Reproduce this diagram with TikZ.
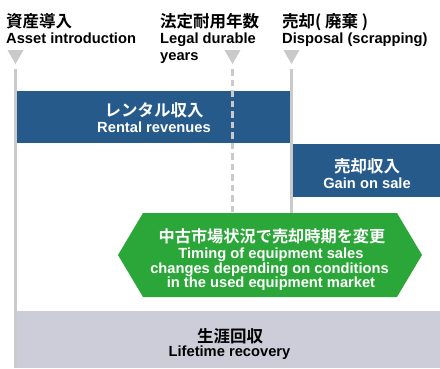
\documentclass[tikz,border=0pt]{standalone}
\usepackage{fontspec}
\setmainfont{Liberation Sans}
\newfontfamily\jp{Noto Sans CJK JP}[BoldFont={Noto Sans CJK JP Bold}]
\definecolor{barblue}{HTML}{255A8B}
\definecolor{hexgreen}{HTML}{2BA638}
\definecolor{linegray}{HTML}{CACACA}
\definecolor{boxgray}{HTML}{CDCCD9}
\tikzset{
  jptext/.style={inner sep=0pt, anchor=base, font=\jp\bfseries\fontsize{16.5}{17}\selectfont},
  entext/.style={inner sep=0pt, anchor=base, font=\bfseries\fontsize{14.7}{14.5}\selectfont},
  hjp/.style={jptext, anchor=base west, text=black},
  hen/.style={entext, anchor=base west, text=black},
  wjp/.style={jptext, text=white},
  wen/.style={entext, text=white},
  marker/.style={fill=linegray, draw=none},
  timeline/.style={draw=linegray, line width=2.2pt},
  bluebar/.style={fill=barblue, draw=none}
}
\begin{document}
\begin{tikzpicture}[x=1pt,y=-1pt]
\useasboundingbox (0,0) rectangle (440,368);
% headers
\node[hjp] (h1j) at (6,27) {資産導入};
\node[hen] (h1e) at (6,43.5) {Asset introduction};
\node[hjp] (h2j) at (160,27) {法定耐用年数};
\node[hen] (h2e) at (160,43.5) {Legal durable};
\node[hen] (h2f) at (160,60) {years};
\node[hjp] (h3j) at (282,27) {売却( 廃棄 )};
\node[hen] (h3e) at (282,43.5) {Disposal (scrapping)};
% markers
\fill[marker] (7.5,50) -- (23.5,50) -- (15.5,64) -- cycle;
\fill[marker] (224.5,50) -- (240.5,50) -- (232.5,64) -- cycle;
\fill[marker] (283.5,50) -- (299.5,50) -- (291.5,64) -- cycle;
% bars
\fill[bluebar] (16,91) rectangle (290,143);
\fill[bluebar] (293,144) rectangle (440,197);
\fill[boxgray] (16.5,311) rectangle (440,368);
% lines
\coordinate (l1t) at (15.5,69);
\coordinate (l1b) at (15.5,368);
\coordinate (l2t) at (232.5,69);
\coordinate (l2b) at (232.5,214);
\coordinate (l3t) at (291.5,69);
\coordinate (l3b) at (291.5,214);
\draw[timeline] (l1t) -- (l1b);
\draw[timeline, dash pattern=on 6.5pt off 4pt] (l2t) -- (l2b);
\draw[timeline] (l3t) -- (l3b);
% bar texts
\node[wjp] (rj) at (154,116) {レンタル収入};
\node[wen] (re) at (154,132) {Rental revenues};
\node[wjp] (gj) at (367,172) {売却収入};
\node[wen] (ge) at (367,188) {Gain on sale};
% hexagon
\fill[hexgreen] (143,213) -- (397,213) -- (422,255) -- (397,297) -- (143,297) -- (118,255) -- cycle;
\node[wjp, font=\jp\bfseries\fontsize{16.2}{17}\selectfont] (xj) at (272,242) {中古市場状況で売却時期を変更};
\node[wen] (x1) at (271,258.5) {Timing of equipment sales};
\node[wen] (x2) at (269.5,273) {changes depending on conditions};
\node[wen] (x3) at (271,287.5) {in the used equipment market};
% bottom
\node[jptext] (bj) at (230,342) {生涯回収};
\node[entext] (be) at (229.5,356) {Lifetime recovery};
\end{tikzpicture}
\end{document}
